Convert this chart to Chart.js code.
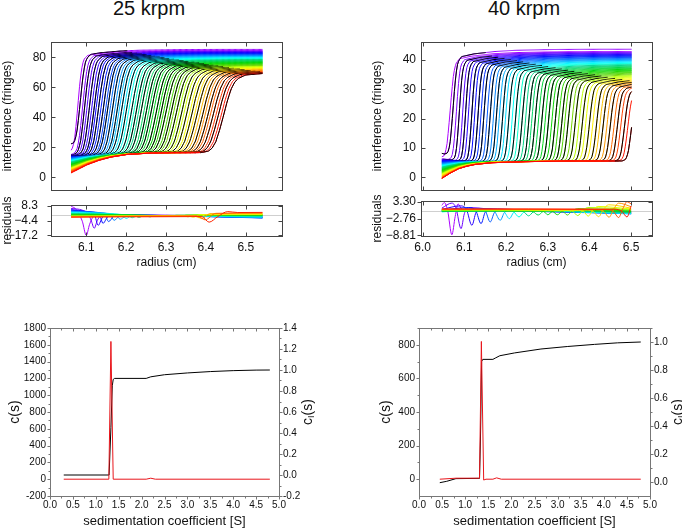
<!DOCTYPE html>
<html>
<head>
<meta charset="utf-8">
<title>sedimentation velocity 25 / 40 krpm</title>
<script src="https://cdn.jsdelivr.net/npm/chart.js@4.4.1/dist/chart.umd.min.js"></script>
<style>
  body { margin: 0; width: 682px; height: 529px; position: relative; overflow: hidden; background: #fff;
         font-family: 'Liberation Sans', Arial, sans-serif; }
  canvas { position: absolute; }
  .title { position: absolute; top: -2px; font-size: 20px; line-height: 20px; color: #111;
           transform: translateX(-50%); white-space: nowrap; }
</style>
</head>
<body>
<div class="title" style="left:149px">25 krpm</div>
<div class="title" style="left:524px">40 krpm</div>
<canvas id="fit25" width="300" height="172" style="left:0;top:30px"></canvas>
<canvas id="res25" width="300" height="85" style="left:0;top:185px"></canvas>
<canvas id="fit40" width="300" height="172" style="left:370px;top:30px"></canvas>
<canvas id="res40" width="300" height="85" style="left:370px;top:185px"></canvas>
<canvas id="cs25" width="320" height="211" style="left:0;top:318px"></canvas>
<canvas id="cs40" width="320" height="211" style="left:371px;top:318px"></canvas>
<script>
// ---------- 25 krpm scans (one value per scan, first = violet, last = red) ----------
const scanMid25 = [6.079,6.085,6.091,6.096,6.102,6.108,6.114,6.120,6.125,6.131,
  6.137,6.143,6.149,6.154,6.160,6.166,6.172,6.178,6.183,6.189,
  6.195,6.201,6.207,6.214,6.220,6.226,6.232,6.238,6.245,6.251,
  6.257,6.263,6.269,6.276,6.282,6.288,6.294,6.300,6.307,6.313,
  6.319,6.326,6.332,6.339,6.345,6.352,6.359,6.365,6.372,6.378,
  6.385,6.392,6.398,6.405,6.411,6.418,6.425,6.431,6.438,6.444];
const scanWidth25 = [0.0080,0.0087,0.0093,0.0098,0.0103,0.0107,0.0110,0.0113,0.0116,0.0119,
  0.0122,0.0124,0.0126,0.0128,0.0130,0.0132,0.0134,0.0136,0.0138,0.0140,
  0.0142,0.0143,0.0145,0.0147,0.0148,0.0150,0.0152,0.0153,0.0154,0.0156,
  0.0157,0.0159,0.0160,0.0162,0.0163,0.0164,0.0166,0.0167,0.0168,0.0169,
  0.0171,0.0172,0.0173,0.0174,0.0175,0.0176,0.0177,0.0178,0.0179,0.0180,
  0.0181,0.0182,0.0183,0.0184,0.0185,0.0186,0.0187,0.0188,0.0189,0.0190];
const scanTop25 = [84.6,85.2,84.2,84.0,83.7,83.5,83.2,83.0,82.7,82.5,
  82.2,82.0,81.7,81.5,81.2,81.0,80.7,80.5,80.2,80.0,
  79.7,79.5,79.2,79.0,78.7,78.5,78.2,78.0,77.7,77.5,
  77.2,77.0,76.7,76.5,76.2,76.0,75.7,75.5,75.2,75.0,
  74.7,74.5,74.2,74.0,73.7,73.5,73.2,73.0,72.7,72.5,
  72.2,72.0,71.7,71.5,71.3,71.1,70.9,70.7,70.5,70.3];
const scanMeniscus25 = [17.0,22.0,15.3,15.0,14.8,14.6,14.4,14.2,14.0,13.8,
  13.5,13.3,13.1,12.9,12.7,12.5,12.3,12.0,11.8,11.6,
  11.4,11.2,11.0,10.7,10.5,10.3,10.1,9.9,9.7,9.5,
  9.2,9.0,8.8,8.6,8.4,8.2,7.9,7.7,7.5,7.3,
  7.1,6.9,6.6,6.4,6.2,6.0,5.8,5.6,5.3,5.1,
  4.9,4.7,4.5,4.3,4.0,3.8,3.6,3.4,3.2,3.0];
const baselineFloor25 = 16.5;
const shoulderCreep25 = 5;
const radiusTicks25 = [6.1, 6.2, 6.3, 6.4, 6.5];
const fringeTicks25 = [0, 20, 40, 60, 80];
const residualTicks25 = [8.3, -4.4, -17.2];
const residualScans25 = [0,3,6,9,12,15,18,21,24,27,30,33,36,39,42,45,48,51,54,57];
const residualPts25 = [
  [[6.062,8.0],[6.075,5.0],[6.09,-5],[6.1,-17.2],[6.108,-8],[6.118,-1],[6.14,0.5],[6.3,0.2],[6.542,-0.8]],
  [[6.062,6.0],[6.09,4.5],[6.105,1],[6.112,-4],[6.12,-11],[6.128,-4],[6.14,0.5],[6.3,0],[6.542,-1.2]],
  [[6.062,5.0],[6.1,3.5],[6.12,1],[6.13,-8.5],[6.14,-2],[6.155,0.5],[6.3,-0.2],[6.542,-1.6]],
  [[6.062,4.5],[6.11,3],[6.133,0.8],[6.142,-6.8],[6.153,-1.5],[6.17,0.5],[6.35,-0.5],[6.542,-2.0]],
  [[6.062,4.0],[6.12,2.8],[6.147,0.5],[6.156,-5.3],[6.168,-1],[6.185,0.3],[6.35,-0.6],[6.542,-2.2]],
  [[6.062,3.5],[6.13,2.5],[6.16,0.5],[6.17,-4.2],[6.182,-0.8],[6.2,0.2],[6.4,-0.8],[6.542,-2.0]],
  [[6.062,3.0],[6.14,2],[6.175,0.3],[6.185,-3.3],[6.198,-0.6],[6.215,0],[6.4,-0.7],[6.542,-1.6]],
  [[6.062,2.5],[6.15,1.6],[6.19,0.2],[6.2,-2.6],[6.213,-0.4],[6.23,0],[6.4,-0.5],[6.542,-1.2]],
  [[6.062,2.0],[6.16,1.2],[6.205,0],[6.215,-2],[6.228,-0.3],[6.25,0],[6.542,-0.8]],
  [[6.062,1.5],[6.18,0.8],[6.22,0],[6.232,-1.6],[6.245,-0.2],[6.27,0],[6.542,-0.4]],
  [[6.062,1.0],[6.2,0.5],[6.245,-0.2],[6.26,-1.2],[6.275,-0.1],[6.542,0]],
  [[6.062,0.6],[6.22,0.3],[6.27,-0.2],[6.285,-1],[6.3,0],[6.542,0.2]],
  [[6.062,0.2],[6.3,-0.1],[6.31,-0.9],[6.325,0.1],[6.542,0.4]],
  [[6.062,-0.2],[6.32,-0.2],[6.335,-1],[6.35,0.2],[6.542,0.6]],
  [[6.062,-0.5],[6.34,-0.2],[6.355,-1.2],[6.37,0.4],[6.542,0.8]],
  [[6.062,-0.8],[6.355,-0.3],[6.368,-1.5],[6.385,0.6],[6.542,1.0]],
  [[6.062,-1.0],[6.37,-0.3],[6.383,-2],[6.4,0.8],[6.542,1.3]],
  [[6.062,-1.2],[6.375,-0.3],[6.39,-2.8],[6.41,1.5],[6.542,1.8]],
  [[6.062,-1.3],[6.38,-0.5],[6.398,-3.8],[6.425,1.8],[6.542,2.2]],
  [[6.062,-1.5],[6.39,-1],[6.408,-5.8],[6.43,-1],[6.455,3.3],[6.48,2.5],[6.542,2.6]]
];

// ---------- 40 krpm scans ----------
const scanMid40 = [6.066,6.073,6.081,6.088,6.096,6.103,6.110,6.118,6.125,6.133,
  6.140,6.147,6.155,6.162,6.170,6.177,6.184,6.192,6.199,6.207,
  6.215,6.223,6.231,6.239,6.247,6.255,6.262,6.270,6.278,6.286,
  6.294,6.302,6.310,6.318,6.326,6.334,6.341,6.349,6.358,6.366,
  6.375,6.383,6.391,6.400,6.408,6.417,6.425,6.433,6.442,6.450,
  6.459,6.467,6.475,6.484,6.492,6.501];
const scanWidth40 = [0.0075,0.0068,0.0063,0.0060,0.0059,0.0059,0.0059,0.0059,0.0060,0.0060,
  0.0061,0.0061,0.0062,0.0062,0.0063,0.0063,0.0064,0.0064,0.0065,0.0065,
  0.0066,0.0066,0.0066,0.0067,0.0067,0.0067,0.0068,0.0068,0.0068,0.0069,
  0.0069,0.0069,0.0070,0.0070,0.0070,0.0071,0.0071,0.0071,0.0072,0.0072,
  0.0072,0.0072,0.0073,0.0073,0.0073,0.0073,0.0074,0.0074,0.0074,0.0074,
  0.0075,0.0075,0.0075,0.0075,0.0076,0.0076];
const scanTop40 = [42.8,43.6,42.6,42.4,42.2,42.0,41.8,41.6,41.4,41.2,
  41.0,40.8,40.6,40.4,40.2,40.0,39.8,39.6,39.4,39.2,
  39.0,38.8,38.6,38.4,38.2,38.0,37.8,37.6,37.4,37.2,
  37.0,36.8,36.6,36.4,36.2,36.0,35.8,35.6,35.4,35.2,
  35.0,34.8,34.6,34.4,34.2,34.0,33.8,33.6,33.4,33.2,
  33.0,32.8,32.6,32.4,32.2,32.0];
const scanMeniscus40 = [6.8,8.2,6.3,6.2,6.0,5.9,5.8,5.6,5.5,5.4,
  5.2,5.1,5.0,4.8,4.7,4.6,4.4,4.3,4.2,4.0,
  3.9,3.8,3.6,3.5,3.4,3.2,3.1,3.0,2.8,2.7,
  2.6,2.4,2.3,2.2,2.0,1.9,1.8,1.6,1.5,1.4,
  1.2,1.1,1.0,0.8,0.7,0.6,0.4,0.3,0.2,0.0,
  -0.1,-0.2,-0.2,-0.3,-0.3,-0.3];
const baselineFloor40 = 5.6;
const shoulderCreep40 = 3.5;
const radiusTicks40 = [6.0, 6.1, 6.2, 6.3, 6.4, 6.5];
const fringeTicks40 = [0, 10, 20, 30, 40];
const residualTicks40 = [3.30, -2.76, -8.81];
const residualScans40 = [0,3,6,9,12,15,18,21,24,27,30,33,36,39,42,45,48,51,54];
const residualPts40 = [
  [[6.046,2.0],[6.052,3.0],[6.06,0],[6.07,-8.6],[6.078,-2],[6.085,2.5],[6.095,0.5],[6.2,0.2],[6.5,-0.3]],
  [[6.046,1.0],[6.07,2.8],[6.08,1],[6.092,-6.4],[6.1,-1],[6.11,1.2],[6.2,0.1],[6.5,-0.5]],
  [[6.046,0.5],[6.09,1.8],[6.105,0.5],[6.118,-5.2],[6.128,-0.5],[6.14,0.8],[6.3,0],[6.5,-0.7]],
  [[6.046,0.2],[6.11,1.2],[6.127,0.2],[6.14,-4.6],[6.15,-0.5],[6.165,0.5],[6.3,-0.2],[6.5,-0.9]],
  [[6.046,0],[6.13,0.8],[6.15,0],[6.162,-4],[6.172,-0.6],[6.185,0.3],[6.3,-0.3],[6.5,-1.0]],
  [[6.046,-0.2],[6.15,0.6],[6.172,-0.2],[6.186,-3.4],[6.196,-0.6],[6.21,0.2],[6.35,-0.3],[6.5,-1.1]],
  [[6.046,-0.3],[6.17,0.4],[6.195,-0.3],[6.208,-2.8],[6.218,-0.6],[6.23,0.1],[6.5,-1.0]],
  [[6.046,-0.3],[6.2,0.2],[6.218,-0.3],[6.231,-2.2],[6.242,-0.5],[6.255,0],[6.5,-0.8]],
  [[6.046,-0.2],[6.22,0],[6.242,-0.3],[6.254,-1.8],[6.265,-0.4],[6.28,0.1],[6.5,-0.6]],
  [[6.046,-0.1],[6.25,0],[6.265,-0.3],[6.277,-1.5],[6.288,-0.3],[6.3,0.2],[6.5,-0.4]],
  [[6.046,0],[6.27,0],[6.29,-0.2],[6.3,-1.4],[6.31,-0.3],[6.325,0.3],[6.5,-0.2]],
  [[6.046,0.1],[6.3,0],[6.312,-0.2],[6.323,-1.4],[6.334,-0.2],[6.348,0.5],[6.5,0]],
  [[6.046,0.2],[6.32,0],[6.336,-0.2],[6.347,-1.5],[6.358,-0.1],[6.372,0.8],[6.5,0.3]],
  [[6.046,0.3],[6.345,0.1],[6.36,-0.2],[6.372,-1.7],[6.383,0],[6.396,1.2],[6.5,0.5]],
  [[6.046,0.4],[6.37,0.2],[6.386,-0.2],[6.397,-1.9],[6.408,0.2],[6.42,1.6],[6.5,0.7]],
  [[6.046,0.5],[6.395,0.3],[6.41,-0.3],[6.422,-2.1],[6.433,0.4],[6.446,2.2],[6.5,1.0]],
  [[6.046,0.5],[6.42,0.4],[6.435,-0.3],[6.447,-2.3],[6.458,0.6],[6.47,2.8],[6.5,1.5]],
  [[6.046,0.6],[6.44,0.5],[6.458,-0.3],[6.47,-2.4],[6.48,0.8],[6.49,3.3],[6.5,2.5]],
  [[6.046,0.7],[6.46,0.6],[6.478,-0.2],[6.49,-2.2],[6.5,1.8]]
];

// boundary / baseline profile tables
const stepShape = [[-3,0],[-2,0.02],[-1.5,0.06],[-1,0.15],[-0.5,0.31],[0,0.5],[0.5,0.69],[1,0.84],[1.5,0.93],[2,0.97],[3,1]];
const baseShape25 = [[0,1],[0.02,0.8],[0.04,0.6],[0.07,0.38],[0.1,0.22],[0.14,0.09],[0.2,0.02],[0.26,0]];
const baseShape40 = [[0,1],[0.02,0.7],[0.04,0.45],[0.06,0.3],[0.08,0.2],[0.12,0.1],[0.2,0.04],[0.3,0]];
const creepShape = [[0,1],[0.02,0.72],[0.05,0.45],[0.1,0.22],[0.15,0.1],[0.25,0.02],[0.35,0]];

// ---------- c(s) distributions ----------
const csS25 = [0.3, 1.285, 1.33, 1.38, 2.1, 2.2, 2.3, 4.8];
const cs25 = [0, 0, 1640, 0, 0, 12, 0, 0];
const ciS25 = [0.3, 1.29, 1.33, 1.36, 1.38, 1.41, 2.1, 2.2, 2.5, 3.0, 3.5, 4.0, 4.5, 4.8];
const ci25 = [0, 0, 0.45, 0.85, 0.91, 0.92, 0.92, 0.935, 0.955, 0.972, 0.985, 0.994, 0.999, 1.0];
const csS40 = [0.45, 0.8, 1.31, 1.35, 1.40, 1.45, 1.6, 1.68, 1.78, 4.8];
const cs40 = [0, 6, 6, 820, -5, 0, 0, 8, 0, 0];
const ciS40 = [0.45, 0.6, 0.8, 1.31, 1.33, 1.355, 1.38, 1.6, 1.65, 1.75, 2.07, 2.64, 3.22, 3.8, 4.3, 4.8];
const ci40 = [-0.005, 0.005, 0.024, 0.026, 0.3, 0.86, 0.876, 0.876, 0.885, 0.902, 0.922, 0.95, 0.968, 0.983, 0.994, 1.0];

Chart.defaults.font.family = "'Liberation Sans', Arial, sans-serif";
Chart.defaults.color = '#111';
Chart.defaults.animation = false;
Chart.defaults.events = [];
Chart.defaults.plugins.legend.display = false;
Chart.defaults.plugins.tooltip.enabled = false;

const FRAME = '#444';

function lookup(table, x) {
  if (x <= table[0][0]) return table[0][1];
  for (let k = 1; k < table.length; k++) {
    if (x <= table[k][0]) {
      const [x0, y0] = table[k - 1], [x1, y1] = table[k];
      return y0 + (y1 - y0) * (x - x0) / (x1 - x0);
    }
  }
  return table[table.length - 1][1];
}

function rainbow(i, n) {
  const h = 280 * (1 - i / (n - 1));
  const l = (h > 85 && h < 165) ? 42 : 50;
  return 'hsl(' + h.toFixed(0) + ',100%,' + l + '%)';
}

function scanPoints(p, i) {
  const pts = [];
  const count = Math.round((p.end - p.start) / p.step);
  for (let k = 0; k <= count; k++) {
    const r = p.start + k * p.step;
    const base = p.floor - (p.floor - p.men[i]) * lookup(p.baseShape, r - p.start);
    const top = p.top[i] - p.creep * lookup(creepShape, Math.max(0, r - p.mid[i]));
    const f = lookup(stepShape, (r - p.mid[i]) / p.wid[i]);
    pts.push({ x: r, y: base + (top - base) * f });
  }
  return pts;
}

function scanDatasets(p) {
  const sets = [];
  const n = p.mid.length;
  for (let i = 0; i < n; i++) {
    const pts = scanPoints(p, i);
    sets.push({ data: pts, borderColor: rainbow(i, n), borderWidth: 1, order: 2 * (n - i) });
    if (i % 2 === 1) {
      sets.push({
        data: pts.filter(q => q.x >= p.mid[i] - p.fitBefore && q.x <= p.mid[i] + p.fitAfter),
        borderColor: '#000', borderWidth: 1, order: 2 * (n - i) - 1
      });
    }
  }
  return sets;
}

const crisp = v => Math.round(v) + 0.5;

const framePlugin = {
  id: 'frame',
  beforeDatasetsDraw(chart, args, o) {
    const { ctx, chartArea: a, scales } = chart;
    (o.hlines || []).forEach(h => {
      const y = crisp(scales[h.axis].getPixelForValue(h.value));
      ctx.save();
      ctx.strokeStyle = h.color;
      ctx.lineWidth = 1;
      ctx.beginPath(); ctx.moveTo(a.left, y); ctx.lineTo(a.right, y); ctx.stroke();
      ctx.restore();
    });
  },
  afterDraw(chart, args, o) {
    const { ctx, chartArea: a, scales } = chart;
    ctx.save();
    ctx.strokeStyle = o.color || FRAME;
    ctx.lineWidth = 1;
    const L = crisp(a.left), R = crisp(a.right), T = crisp(a.top), B = crisp(a.bottom);
    ctx.strokeRect(L, T, R - L, B - T);
    (o.marks || []).forEach(m => {
      const s = scales[m.axis];
      ctx.beginPath();
      m.values.forEach(v => {
        const p = crisp(s.getPixelForValue(v));
        if (m.side === 'top') { ctx.moveTo(p, T); ctx.lineTo(p, T + m.len); }
        if (m.side === 'bottom') { ctx.moveTo(p, B); ctx.lineTo(p, B - m.len); }
        if (m.side === 'left') { ctx.moveTo(L, p); ctx.lineTo(L + m.len, p); }
        if (m.side === 'right') { ctx.moveTo(R, p); ctx.lineTo(R - m.len, p); }
      });
      ctx.stroke();
    });
    ctx.restore();
  }
};

// right-hand axis title with a subscript, read bottom-to-top
const sideTitlePlugin = {
  id: 'sideTitle',
  afterDraw(chart, args, o) {
    if (!o.parts) return;
    const { ctx, chartArea: a } = chart;
    ctx.save();
    ctx.translate(o.x, (a.top + a.bottom) / 2);
    ctx.rotate(-Math.PI / 2);
    ctx.fillStyle = '#111';
    ctx.textBaseline = 'middle';
    ctx.textAlign = 'left';
    let total = 0;
    o.parts.forEach(pt => { ctx.font = pt.size + "px 'Liberation Sans', Arial, sans-serif"; total += ctx.measureText(pt.text).width; });
    let x = -total / 2;
    o.parts.forEach(pt => {
      ctx.font = pt.size + "px 'Liberation Sans', Arial, sans-serif";
      ctx.fillText(pt.text, x, pt.dy || 0);
      x += ctx.measureText(pt.text).width;
    });
    ctx.restore();
  }
};

const fixedTicks = list => s => { s.ticks = list.map(v => ({ value: v })); };
const noGrid = { display: false, drawTicks: false };

function fitChart(id, p, xRange, yRange, yTicks, xTicks) {
  return new Chart(document.getElementById(id), {
    type: 'line',
    data: { datasets: scanDatasets(p) },
    options: {
      responsive: false,
      normalized: true,
      layout: { padding: { top: 12, right: 18, bottom: 1, left: 0 } },
      elements: { point: { radius: 0 }, line: { tension: 0 } },
      scales: {
        x: { type: 'linear', display: false, min: xRange[0], max: xRange[1] },
        y: {
          min: yRange[0], max: yRange[1],
          afterFit: s => { s.width = 51; },
          afterBuildTicks: fixedTicks(yTicks),
          grid: noGrid, border: { display: false },
          ticks: { padding: 5, font: { size: 12 }, autoSkip: false },
          title: { display: true, text: 'interference (fringes)', font: { size: 12 }, padding: 0 }
        }
      },
      plugins: {
        frame: { marks: [
          { axis: 'x', side: 'top', values: xTicks, len: 4 },
          { axis: 'x', side: 'bottom', values: xTicks, len: 4 },
          { axis: 'y', side: 'left', values: yTicks, len: 4 },
          { axis: 'y', side: 'right', values: yTicks, len: 4 }
        ] }
      }
    },
    plugins: [framePlugin]
  });
}

function residualChart(id, scans, pts, n, xRange, yRange, yTicks, xTicks, digits, labelPad) {
  const minus = v => (v < 0 ? '\u2212' : '') + Math.abs(v).toFixed(digits);
  return new Chart(document.getElementById(id), {
    type: 'line',
    data: {
      datasets: scans.map((si, k) => ({
        data: pts[k].map(([x, y]) => ({ x, y })),
        borderColor: rainbow(si, n), borderWidth: 1,
        cubicInterpolationMode: 'monotone', order: n - si
      }))
    },
    options: {
      responsive: false,
      layout: { padding: { top: 16, right: 18, bottom: 0, left: 0 } },
      elements: { point: { radius: 0 } },
      scales: {
        x: {
          type: 'linear', min: xRange[0], max: xRange[1],
          afterFit: s => { s.height = 34; },
          afterBuildTicks: fixedTicks(xTicks),
          grid: noGrid, border: { display: false },
          ticks: { padding: 4, font: { size: 12 }, maxRotation: 0, autoSkip: false, callback: v => v.toFixed(1) },
          title: { display: true, text: 'radius (cm)', font: { size: 12 }, padding: 0 }
        },
        y: {
          min: yRange[0], max: yRange[1],
          afterFit: s => { s.width = 51; },
          afterBuildTicks: fixedTicks(yTicks),
          grid: noGrid, border: { display: false },
          ticks: { padding: labelPad, font: { size: 12 }, autoSkip: false, callback: minus },
          title: { display: true, text: 'residuals', font: { size: 12 }, padding: 0 }
        }
      },
      plugins: {
        frame: {
          hlines: [{ axis: 'y', value: 0, color: '#cfcfcf' }],
          marks: [
            { axis: 'x', side: 'top', values: xTicks, len: 4 },
            { axis: 'x', side: 'bottom', values: xTicks, len: 4 },
            { axis: 'y', side: 'left', values: yTicks, len: -4 },
            { axis: 'y', side: 'right', values: yTicks, len: 4 }
          ]
        }
      }
    },
    plugins: [framePlugin]
  });
}

function distChart(id, o) {
  const series = (lo, hi, step) => { const out = []; for (let k = 0; lo + k * step <= hi + 1e-9; k++) out.push(+(lo + k * step).toFixed(4)); return out; };
  const xMajor = series(0, 5, 0.5), xMinor = series(0.25, 4.75, 0.5);
  const yMajor = series(o.yTicks[0], o.yTicks[1], o.yTicks[2]);
  const yMinor = series(o.yTicks[0] + o.yTicks[2] / 2, o.yRange[1], o.yTicks[2]);
  const y2Major = series(o.y2Ticks[0], o.y2Ticks[1], o.y2Ticks[2]);
  const y2Minor = series(o.y2Ticks[0] + o.y2Ticks[2] / 2, o.y2Range[1], o.y2Ticks[2]);
  return new Chart(document.getElementById(id), {
    type: 'line',
    data: {
      datasets: [
        { data: o.csS.map((s, k) => ({ x: s, y: o.cs[k] })), borderColor: '#e8151b', borderWidth: 1, yAxisID: 'y', order: 1 },
        { data: o.ciS.map((s, k) => ({ x: s, y: o.ci[k] })), borderColor: '#000', borderWidth: 1, yAxisID: 'y2', order: 2 }
      ]
    },
    options: {
      responsive: false,
      layout: { padding: { top: 10, right: 0, bottom: 0, left: 0 } },
      elements: { point: { radius: 0 }, line: { tension: 0 } },
      scales: {
        x: {
          type: 'linear', min: 0, max: 5,
          afterFit: s => { s.height = 33; },
          afterBuildTicks: fixedTicks(xMajor),
          grid: noGrid, border: { display: false },
          ticks: { padding: 3, font: { size: 10 }, maxRotation: 0, autoSkip: false, callback: v => v.toFixed(1) },
          title: { display: true, text: 'sedimentation coefficient [S]', font: { size: 13 }, padding: 0 }
        },
        y: {
          min: o.yRange[0], max: o.yRange[1],
          afterFit: s => { s.width = o.leftWidth; },
          afterBuildTicks: fixedTicks(yMajor),
          grid: noGrid, border: { display: false },
          ticks: { padding: 4, font: { size: 10 }, autoSkip: false, callback: v => String(v) },
          title: { display: true, text: 'c(s)', font: { size: 14 }, padding: { top: o.leftTitlePad, bottom: 0 } }
        },
        y2: {
          position: 'right', min: o.y2Range[0], max: o.y2Range[1],
          afterFit: s => { s.width = 41; },
          afterBuildTicks: fixedTicks(y2Major),
          grid: noGrid, border: { display: false },
          ticks: { padding: 4, font: { size: 10 }, autoSkip: false, callback: v => v.toFixed(1) }
        }
      },
      plugins: {
        frame: {
          color: '#777',
          marks: [
            { axis: 'x', side: 'bottom', values: xMajor, len: -3 },
            { axis: 'x', side: 'bottom', values: xMinor, len: -2 },
            { axis: 'x', side: 'top', values: xMajor, len: 3 },
            { axis: 'x', side: 'top', values: xMinor, len: 2 },
            { axis: 'y', side: 'left', values: yMajor, len: -3 },
            { axis: 'y', side: 'left', values: yMinor, len: -2 },
            { axis: 'y2', side: 'right', values: y2Major, len: -3 },
            { axis: 'y2', side: 'right', values: y2Minor, len: -2 }
          ]
        },
        sideTitle: {
          x: o.rightTitleX,
          parts: [{ text: 'c', size: 14 }, { text: 'I', size: 9, dy: 4 }, { text: '(s)', size: 14 }]
        }
      }
    },
    plugins: [framePlugin, sideTitlePlugin]
  });
}

const panel25 = { start: 6.062, end: 6.542, step: 0.003, mid: scanMid25, wid: scanWidth25, top: scanTop25,
  men: scanMeniscus25, floor: baselineFloor25, creep: shoulderCreep25, baseShape: baseShape25, fitBefore: 0.06, fitAfter: 0.12 };
const panel40 = { start: 6.046, end: 6.5, step: 0.0025, mid: scanMid40, wid: scanWidth40, top: scanTop40,
  men: scanMeniscus40, floor: baselineFloor40, creep: shoulderCreep40, baseShape: baseShape40, fitBefore: 0.04, fitAfter: 0.08 };

fitChart('fit25', panel25, [6.0115, 6.591], [-8.2, 90], fringeTicks25, radiusTicks25);
fitChart('fit40', panel40, [5.996, 6.55], [-4.2, 46], fringeTicks40, radiusTicks40);
residualChart('res25', residualScans25, residualPts25, scanMid25.length, [6.0115, 6.591], [-17.7, 8.8], residualTicks25, radiusTicks25, 1, 13);
residualChart('res40', residualScans40, residualPts40, scanMid40.length, [5.996, 6.55], [-9.06, 3.56], residualTicks40, radiusTicks40, 2, 5);

distChart('cs25', { csS: csS25, cs: cs25, ciS: ciS25, ci: ci25,
  yRange: [-200, 1800], yTicks: [-200, 1800, 200], y2Range: [-0.2, 1.4], y2Ticks: [-0.2, 1.4, 0.2],
  leftWidth: 50, leftTitlePad: 6.6, rightTitleX: 308 });
distChart('cs40', { csS: csS40, cs: cs40, ciS: ciS40, ci: ci40,
  yRange: [-100, 900], yTicks: [0, 800, 200], y2Range: [-0.1, 1.1], y2Ticks: [0, 1.0, 0.2],
  leftWidth: 48, leftTitlePad: 6.6, rightTitleX: 306.7 });
</script>
</body>
</html>
